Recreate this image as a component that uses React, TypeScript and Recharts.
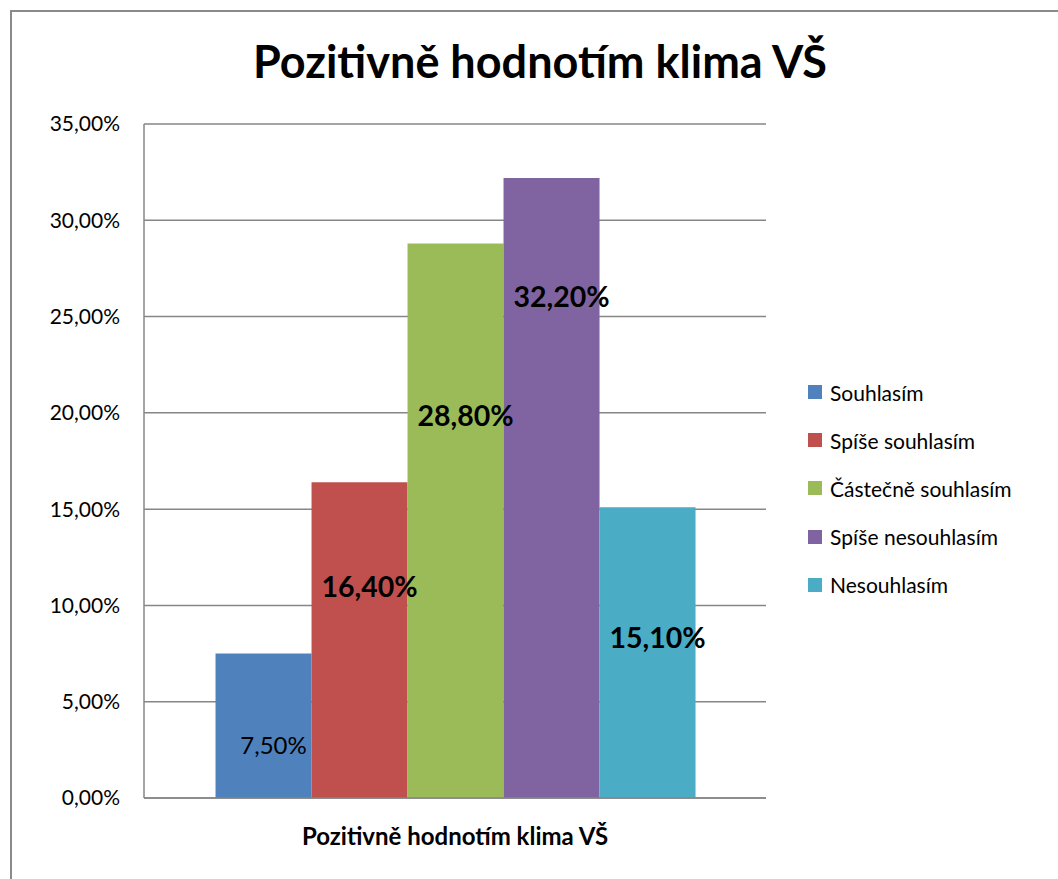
import React from "react";
import {
  BarChart,
  Bar,
  XAxis,
  YAxis,
  CartesianGrid,
  Legend,
  LabelList,
} from "recharts";

const categories = ["Pozitivně hodnotím klima VŠ"];
const seriesNames = [
  "Souhlasím",
  "Spíše souhlasím",
  "Částečně souhlasím",
  "Spíše nesouhlasím",
  "Nesouhlasím",
];
const seriesValues = [7.5, 16.4, 28.8, 32.2, 15.1];
const yTicks = [0, 5, 10, 15, 20, 25, 30, 35];

const colors = ["#4f81bd", "#c0504d", "#9bbb59", "#8064a2", "#4bacc6"];
// where the data label sits, as a share of the bar's height from its base
const labelLift = [0.37, 0.67, 0.69, 0.81, 0.555];
const labelBold = [false, true, true, true, true];

const FONT = "Lato, 'Open Sans', sans-serif";
const LEGEND_W = 250;

const data = categories.map((name) => {
  const row: Record<string, string | number> = { name };
  seriesNames.forEach((s, i) => {
    row[s] = seriesValues[i];
  });
  return row;
});

const fmt = (v: number) => v.toFixed(2).replace(".", ",") + "%";

const makeLabel = (i: number) => (props: any) => {
  const { x, y, width, height, value } = props;
  const cy = y + height * (1 - labelLift[i]);
  return (
    <text
      x={x + width / 2 + 10}
      y={cy}
      textAnchor="middle"
      dominantBaseline="central"
      fontFamily={FONT}
      fontSize={labelBold[i] ? 28.5 : 24}
      fontWeight={labelBold[i] ? 700 : 400}
      fill="#000"
    >
      {fmt(Number(value))}
    </text>
  );
};

const LegendContent = () => (
  <div style={{ fontFamily: FONT, fontSize: 21, color: "#000" }}>
    {seriesNames.map((s, i) => (
      <div
        key={s}
        style={{ display: "flex", alignItems: "center", height: 48.2 }}
      >
        <span
          style={{
            display: "inline-block",
            width: 14,
            height: 14,
            background: colors[i],
            marginRight: 8,
          }}
        />
        <span>{s}</span>
      </div>
    ))}
  </div>
);

const App: React.FC = () => {
  return (
    <div
      style={{
        position: "absolute",
        left: 0,
        top: 0,
        width: 1058,
        height: 879,
        overflow: "hidden",
        background: "#fff",
      }}
    >
      <div
        style={{
          position: "absolute",
          left: 10,
          top: 10,
          width: 1100,
          height: 900,
          border: "2px solid #8a8a8a",
        }}
      />
      <div
        style={{
          position: "absolute",
          left: 0,
          top: 34,
          width: 1080,
          textAlign: "center",
          fontFamily: FONT,
          fontWeight: 700,
          fontSize: 45,
          color: "#000",
        }}
      >
        Pozitivně hodnotím klima VŠ
      </div>
      <div style={{ position: "absolute", left: 0, top: 0 }}>
        <BarChart
          width={1058}
          height={879}
          data={data}
          margin={{ top: 124, right: 292 - LEGEND_W, left: 0, bottom: 0 }}
          barGap={0}
          barCategoryGap="11.5%"
        >
          <CartesianGrid
            vertical={false}
            stroke="#868686"
            strokeWidth={1.5}
          />
          <XAxis
            dataKey="name"
            axisLine={{ stroke: "#868686", strokeWidth: 1.5 }}
            tickLine={false}
            tickSize={0}
            tickMargin={30}
            height={81}
            tick={{
              fontFamily: FONT,
              fontSize: 24,
              fontWeight: 700,
              fill: "#000",
            }}
          />
          <YAxis
            width={144}
            domain={[0, 35]}
            ticks={yTicks}
            interval={0}
            tickFormatter={(v: number) => fmt(v)}
            axisLine={{ stroke: "#868686", strokeWidth: 1.5 }}
            tickLine={false}
            tickSize={0}
            tickMargin={24}
            tick={{ fontFamily: FONT, fontSize: 21, fill: "#000" }}
          />
          <Legend
            layout="vertical"
            align="right"
            verticalAlign="top"
            content={<LegendContent />}
            wrapperStyle={{ left: 808, top: 368, width: LEGEND_W }}
          />
          {seriesNames.map((s, i) => (
            <Bar
              key={s}
              dataKey={s}
              fill={colors[i]}
              isAnimationActive={false}
            >
              <LabelList dataKey={s} content={makeLabel(i)} />
            </Bar>
          ))}
        </BarChart>
      </div>
    </div>
  );
};

export default App;
